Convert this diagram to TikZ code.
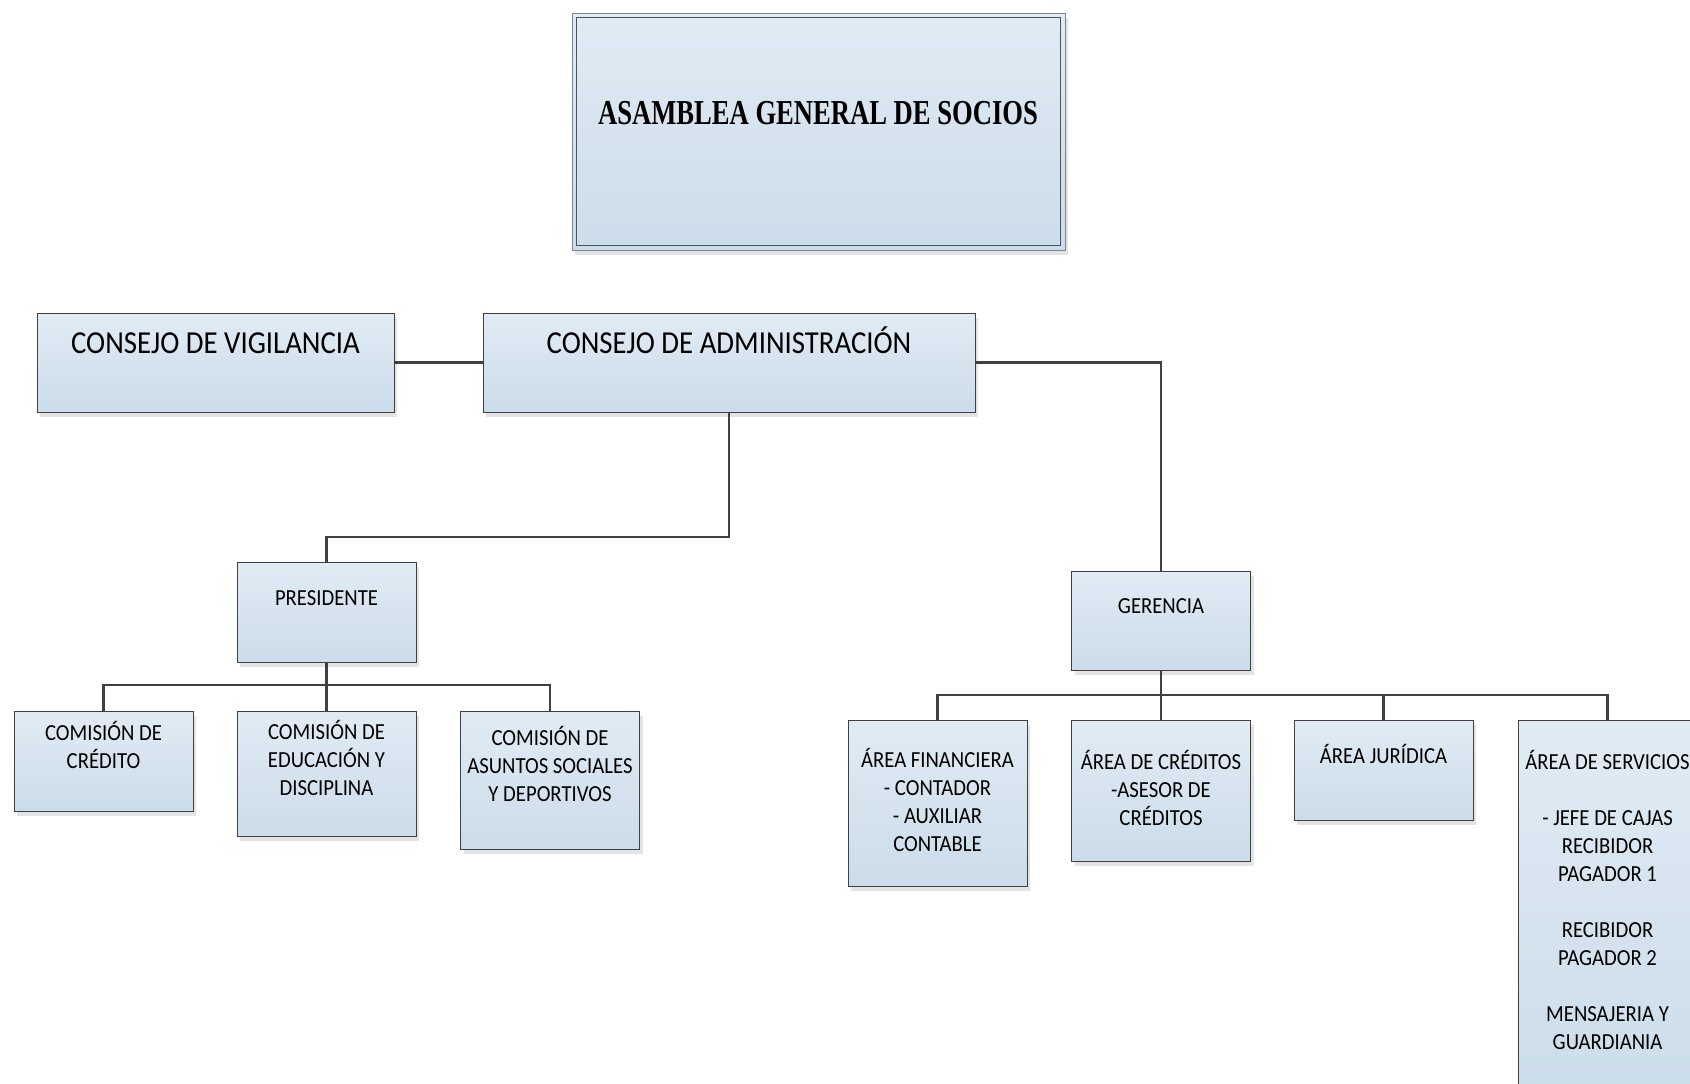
\documentclass[tikz,border=0pt]{standalone}
\usepackage{fontspec}
\usetikzlibrary{shadows}
\newfontfamily\boxfont{Carlito}[FakeStretch=0.9]
\newfontfamily\titlefont{Liberation Serif}[FakeStretch=0.76]
\definecolor{boxtop}{HTML}{E1EBF4}
\definecolor{boxbot}{HTML}{CBDCEA}
\definecolor{edge}{HTML}{404040}
\definecolor{outeredge}{HTML}{7D8792}
\definecolor{innedge}{HTML}{4C535C}
\definecolor{shade}{HTML}{E3E3E3}
\begin{document}
\begin{tikzpicture}[x=.5pt, y=-.5pt,
    unit/.style={draw=edge, line width=.5pt, inner sep=0, top color=boxtop, bottom color=boxbot,
        drop shadow={shadow xshift=1.5pt, shadow yshift=-2.5pt, fill=shade, opacity=1}},
    small/.style={unit, minimum width=89.5pt},
    lbl/.style={font=\boxfont\fontsize{11.5}{14}\selectfont, align=center, inner sep=0,
        execute at begin node=\strut, execute at end node=\strut},
    biglbl/.style={font=\boxfont\fontsize{16}{19}\selectfont, inner sep=0, anchor=base},
    link/.style={draw=edge, line width=1.25pt}]
\useasboundingbox (0,0) rectangle (1690,1083);
\clip (0,0) rectangle (1690,1083);

% top
\node[unit, draw=outeredge, minimum width=246.5pt, minimum height=118.5pt] (asamblea) at (818.5,131.5) {};
\draw[innedge, line width=.6pt] ([shift={(5,5)}]asamblea.north west) rectangle ([shift={(-5,-5)}]asamblea.south east);
\node[font=\titlefont\bfseries\fontsize{17.5}{20}\selectfont, inner sep=0, anchor=base] (asamblea-t) at (818,124.6) {ASAMBLEA GENERAL DE SOCIOS};

% consejos
\node[unit, minimum width=178.5pt, minimum height=49.5pt] (vigilancia) at (215.5,362.5) {};
\node[biglbl] (vigilancia-t) at (215.5,353.3) {CONSEJO DE VIGILANCIA};
\node[unit, minimum width=246pt, minimum height=49.5pt] (admin) at (729,362.5) {};
\node[biglbl] (admin-t) at (729,353.3) {CONSEJO DE ADMINISTRACIÓN};

% presidente y comisiones
\node[small, minimum height=50pt] (presidente) at (326.5,612) {};
\node[lbl] (presidente-t) at (326.5,600) {PRESIDENTE};
\node[small, minimum height=50pt] (credito) at (103.5,761) {};
\node[lbl] (credito-t) at (103.5,749.5) {COMISIÓN DE\\CRÉDITO};
\node[small, minimum height=62.5pt] (educacion) at (326.5,773.5) {};
\node[lbl] (educacion-t) at (326.5,762) {COMISIÓN DE\\EDUCACIÓN Y\\DISCIPLINA};
\node[small, minimum height=69pt] (sociales) at (550,780) {};
\node[lbl] (sociales-t) at (550,768) {COMISIÓN DE\\ASUNTOS SOCIALES\\Y DEPORTIVOS};

% gerencia y areas
\node[small, minimum height=49.5pt] (gerencia) at (1161,620.5) {};
\node[lbl] (gerencia-t) at (1161,608) {GERENCIA};
\node[small, minimum height=83pt] (financiera) at (937.5,803) {};
\node[lbl] (financiera-t) at (937.5,804.5) {ÁREA FINANCIERA\\- CONTADOR\\- AUXILIAR\\CONTABLE};
\node[small, minimum height=70.5pt] (creditos) at (1161,790.5) {};
\node[lbl] (creditos-t) at (1161,792) {ÁREA DE CRÉDITOS\\-ASESOR DE\\CRÉDITOS};
\node[small, minimum height=50pt] (juridica) at (1383.5,770) {};
\node[lbl] (juridica-t) at (1383.5,758) {ÁREA JURÍDICA};
\node[small, minimum height=190pt] (servicios) at (1607.5,910) {};
\node[lbl] (servicios-t) at (1607.5,904) {ÁREA DE SERVICIOS\\[14pt]- JEFE DE CAJAS\\RECIBIDOR\\PAGADOR 1\\[14pt]RECIBIDOR\\PAGADOR 2\\[14pt]MENSAJERIA Y\\GUARDIANIA};

% lineas
\coordinate (bend) at (729,537);
\coordinate (busp) at (326.5,685);
\coordinate (busg) at (1161,695);
\draw[link] (vigilancia) -- (admin);
\draw[link] (admin.east) -| (gerencia.north);
\draw[link] (admin.south) -- (bend) -| (presidente.north);
\draw[link] (presidente.south) -- (educacion.north);
\draw[link] (credito.north) |- (busp) -| (sociales.north);
\draw[link] (gerencia.south) -- (creditos.north);
\draw[link] (financiera.north) |- (busg) -| (servicios.north);
\draw[link] (juridica.north) -- (juridica.north |- busg);
\end{tikzpicture}
\end{document}
